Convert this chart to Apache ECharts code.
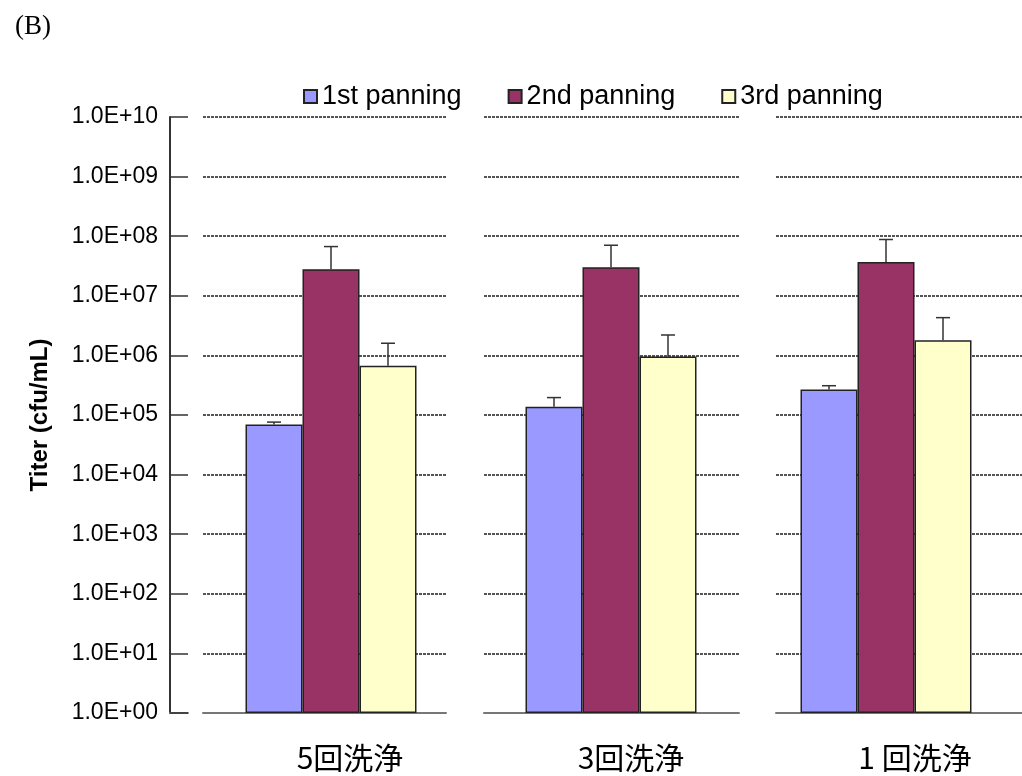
<!DOCTYPE html>
<html>
<head>
<meta charset="utf-8">
<script src="https://cdn.jsdelivr.net/npm/echarts@6/dist/echarts.min.js"></script>
<style>
  html, body { margin: 0; padding: 0; background: #fff; }
  #chart { width: 1022px; height: 776px; }
</style>
</head>
<body>
<div id="chart"></div>
<script>
const categories = ['5回洗浄', '3回洗浄', '1 回洗浄'];
const seriesNames = ['1st panning', '2nd panning', '3rd panning'];
const firstPanning = [6.9e4, 1.38e5, 2.67e5];
const secondPanning = [2.8e7, 3.0e7, 3.7e7];
const thirdPanning = [6.7e5, 9.6e5, 1.8e6];
const firstUpper = [7.6e4, 1.96e5, 3.1e5];
const secondUpper = [6.7e7, 7.05e7, 8.8e7];
const thirdUpper = [1.6e6, 2.2e6, 4.3e6];
const yTickLabels = ['1.0E+00','1.0E+01','1.0E+02','1.0E+03','1.0E+04','1.0E+05','1.0E+06','1.0E+07','1.0E+08','1.0E+09','1.0E+10'];

const values = [firstPanning, secondPanning, thirdPanning];
const uppers = [firstUpper, secondUpper, thirdUpper];
const colors = ['#9999FF', '#993366', '#FFFFCC'];
const BAR_W = 57;
const labelShift = [38, 40, 58];

const chart = echarts.init(document.getElementById('chart'), null, { renderer: 'canvas' });

const TOP = 117, H = 596;
// grid 0: value axis; grids 1-3: gridline panels; grids 4-6: bar panels
const grids = [
  { left: 170, top: TOP, width: 18, height: H },
  { left: 203, top: TOP, width: 243, height: H },
  { left: 484, top: TOP, width: 255, height: H },
  { left: 776, top: TOP, width: 246, height: H },
  { left: 231, top: TOP, width: 200, height: H },
  { left: 511, top: TOP, width: 200, height: H },
  { left: 786, top: TOP, width: 200, height: H }
];

const logAxisBase = { type: 'log', logBase: 10, min: 1, max: 1e10, interval: 1, splitNumber: 10 };

const xAxes = [{
  type: 'category', gridIndex: 0, data: [''],
  axisLine: { show: true, lineStyle: { color: '#777', width: 2 } },
  axisTick: { show: false }, axisLabel: { show: false }
}];
const yAxes = [Object.assign({}, logAxisBase, {
  gridIndex: 0,
  name: 'Titer (cfu/mL)', nameLocation: 'middle', nameGap: 118, nameRotate: 90,
  nameTextStyle: { fontFamily: 'Liberation Sans', fontWeight: 'bold', fontSize: 24, color: '#000' },
  axisLine: { show: true, lineStyle: { color: '#333', width: 2 } },
  axisTick: { show: true, inside: true, length: 18, lineStyle: { color: '#333', width: 1.5 } },
  axisLabel: {
    margin: 12, fontFamily: 'Liberation Sans', fontSize: 23, color: '#000',
    formatter: v => yTickLabels[Math.round(Math.log10(v))]
  },
  splitLine: { show: false }
})];

// gridline panels
categories.forEach((c, i) => {
  xAxes.push({
    type: 'category', gridIndex: i + 1, data: [''],
    axisLine: { show: true, lineStyle: { color: '#777', width: 2 } },
    axisTick: { show: false }, axisLabel: { show: false }
  });
  yAxes.push(Object.assign({}, logAxisBase, {
    gridIndex: i + 1,
    axisLine: { show: false }, axisTick: { show: false }, axisLabel: { show: false },
    splitLine: { show: true, lineStyle: { color: '#555', width: 2, type: [3, 1] } }
  }));
});
// bar panels
categories.forEach((c, i) => {
  xAxes.push({
    type: 'category', gridIndex: i + 4, data: [c],
    axisLine: { show: false }, axisTick: { show: false },
    axisLabel: {
      margin: 30, fontFamily: 'Noto Sans CJK JP', fontSize: 30, color: '#000',
      padding: [0, 0, 0, labelShift[i]]
    }
  });
  yAxes.push(Object.assign({}, logAxisBase, {
    gridIndex: i + 4, show: false, splitLine: { show: false }
  }));
});

const series = [];
categories.forEach((c, i) => {
  const ax = i + 4;
  seriesNames.forEach((name, k) => {
    series.push({
      type: 'bar', name: name, xAxisIndex: ax, yAxisIndex: ax,
      barWidth: BAR_W, barGap: '0%',
      itemStyle: { color: colors[k], borderColor: '#222', borderWidth: 1.5 },
      data: [values[k][i]],
      z: 2
    });
  });
  series.push({
    type: 'custom', name: 'err' + i, xAxisIndex: ax, yAxisIndex: ax,
    data: seriesNames.map((n, k) => [0, uppers[k][i], k, values[k][i]]),
    encode: { x: 0, y: 1 },
    z: 5,
    renderItem: function (params, api) {
      const k = api.value(2);
      const top = api.coord([0, api.value(1)]);
      const base = api.coord([0, api.value(3)]);
      const x = top[0] + (k - 1) * BAR_W;
      const style = { stroke: '#333', lineWidth: 1.5 };
      return {
        type: 'group',
        children: [
          { type: 'line', shape: { x1: x, y1: base[1], x2: x, y2: top[1] }, style: style },
          { type: 'line', shape: { x1: x - 7, y1: top[1], x2: x + 7, y2: top[1] }, style: style }
        ]
      };
    }
  });
});

chart.setOption({
  backgroundColor: '#fff',
  animation: false,
  title: {
    text: '(B)', left: 10, top: 8,
    textStyle: { fontFamily: 'Liberation Serif', fontWeight: 'normal', fontSize: 27, color: '#000' }
  },
  legend: {
    data: seriesNames, left: 298, top: 78, icon: 'rect',
    itemWidth: 13, itemHeight: 13, itemGap: 46,
    textStyle: { fontFamily: 'Liberation Sans', fontSize: 27, color: '#000' }
  },
  grid: grids,
  xAxis: xAxes,
  yAxis: yAxes,
  series: series
});
</script>
</body>
</html>
